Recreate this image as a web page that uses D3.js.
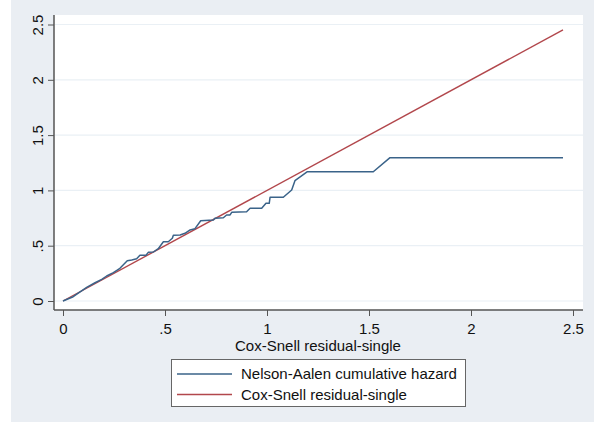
<!DOCTYPE html>
<html>
<head>
<meta charset="utf-8">
<script src="https://cdn.jsdelivr.net/npm/d3@7"></script>
<style>
  html, body { margin: 0; padding: 0; background: #ffffff; }
  svg { display: block; font-family: "Liberation Sans", Arial, sans-serif; }
</style>
</head>
<body>
<svg id="chart" width="594" height="422"></svg>
<script>
// ---- data ----
const tickValues = [0, 0.5, 1, 1.5, 2, 2.5];
const tickLabels = ["0", ".5", "1", "1.5", "2", "2.5"];
// Nelson-Aalen cumulative hazard (x = Cox-Snell residual, y = cumulative hazard)
const naX = [0, 0.05, 0.116, 0.157, 0.190, 0.214, 0.247, 0.279, 0.315, 0.337, 0.361, 0.377, 0.407, 0.418, 0.443, 0.467, 0.492, 0.516, 0.536, 0.541, 0.574, 0.598, 0.623, 0.647, 0.675, 0.737, 0.745, 0.786, 0.802, 0.819, 0.827, 0.900, 0.917, 0.974, 0.995, 1.011, 1.015, 1.080, 1.121, 1.137, 1.198, 1.521, 1.603, 2.451];
const naY = [0, 0.039, 0.124, 0.165, 0.196, 0.226, 0.256, 0.296, 0.364, 0.371, 0.382, 0.413, 0.413, 0.440, 0.443, 0.473, 0.536, 0.536, 0.567, 0.594, 0.597, 0.612, 0.642, 0.654, 0.726, 0.732, 0.748, 0.753, 0.778, 0.778, 0.802, 0.807, 0.838, 0.838, 0.883, 0.883, 0.938, 0.938, 1.004, 1.088, 1.169, 1.169, 1.296, 1.296];
// Reference line (Cox-Snell residual vs itself)
const refX = [0, 2.451];
const refY = [0, 2.451];
const legendLabels = ["Nelson-Aalen cumulative hazard", "Cox-Snell residual-single"];
const seriesColors = ["#3a6389", "#b2474c"];
const xTitle = "Cox-Snell residual-single";

// ---- layout ----
const svg = d3.select("#chart");
const W = 594, H = 422;
const bg = "#eaeef3";
const plot = { left: 54, right: 583, top: 15, bottom: 310 };
const fs = "15px";

svg.append("rect").attr("x", 11).attr("y", 0).attr("width", W - 11).attr("height", H).attr("fill", bg);
svg.append("rect").attr("x", plot.left).attr("y", plot.top)
  .attr("width", plot.right - plot.left).attr("height", plot.bottom - plot.top).attr("fill", "#ffffff");

const x = d3.scaleLinear().domain([0, 2.5]).range([63, 573]);
const y = d3.scaleLinear().domain([0, 2.5]).range([301, 24.5]);

// gridlines
svg.append("g").selectAll("line").data(tickValues).join("line")
  .attr("x1", plot.left + 1).attr("x2", plot.right)
  .attr("y1", d => y(d)).attr("y2", d => y(d))
  .attr("stroke", "#eaf0f5").attr("stroke-width", 1.2);

// axes
const fmt = d => tickLabels[tickValues.indexOf(d)];
const xAxis = svg.append("g").attr("transform", `translate(0,${plot.bottom})`)
  .call(d3.axisBottom(x).tickValues(tickValues).tickFormat(fmt).tickSize(6).tickSizeOuter(0).tickPadding(5));
xAxis.select(".domain").remove();
xAxis.append("line").attr("x1", plot.left).attr("x2", plot.right).attr("y1", 0).attr("y2", 0)
  .attr("stroke", "#555").attr("stroke-width", 1.5);
xAxis.selectAll(".tick line").attr("stroke", "#555");
xAxis.selectAll(".tick text").attr("fill", "#111").style("font-size", fs).attr("dy", "0.85em");

const yAxis = svg.append("g").attr("transform", `translate(${plot.left},0)`)
  .call(d3.axisLeft(y).tickValues(tickValues).tickFormat(fmt).tickSize(6).tickSizeOuter(0).tickPadding(0));
yAxis.select(".domain").remove();
yAxis.append("line").attr("x1", 0).attr("x2", 0).attr("y1", plot.top).attr("y2", plot.bottom)
  .attr("stroke", "#555").attr("stroke-width", 1.5);
yAxis.selectAll(".tick line").attr("stroke", "#555");
yAxis.selectAll(".tick text")
  .attr("x", 0).attr("dy", 0)
  .attr("text-anchor", "middle")
  .attr("transform", "translate(-11,0) rotate(-90)")
  .attr("fill", "#111").style("font-size", fs);

// x title
svg.append("text").attr("x", x(1.25)).attr("y", 351).attr("text-anchor", "middle")
  .style("font-size", fs).attr("fill", "#111").text(xTitle);

// lines
const lineGen = d3.line().x(d => x(d[0])).y(d => y(d[1]));
const naData = naX.map((v, i) => [v, naY[i]]);
const refData = refX.map((v, i) => [v, refY[i]]);
svg.append("path").datum(refData).attr("d", lineGen).attr("fill", "none")
  .attr("stroke", seriesColors[1]).attr("stroke-width", 1.4);
svg.append("path").datum(naData).attr("d", lineGen).attr("fill", "none")
  .attr("stroke", seriesColors[0]).attr("stroke-width", 1.5).attr("stroke-linejoin", "round");

// legend
const lg = svg.append("g");
lg.append("rect").attr("x", 171.5).attr("y", 359.5).attr("width", 294).attr("height", 47)
  .attr("fill", "#fff").attr("stroke", "#666").attr("stroke-width", 1);
legendLabels.forEach((lab, i) => {
  const cy = 374 + i * 20.5;
  lg.append("line").attr("x1", 177).attr("x2", 232).attr("y1", cy).attr("y2", cy)
    .attr("stroke", seriesColors[i]).attr("stroke-width", 1.5);
  lg.append("text").attr("x", 241).attr("y", cy + 5).style("font-size", fs)
    .attr("fill", "#111").text(lab);
});
</script>
</body>
</html>
